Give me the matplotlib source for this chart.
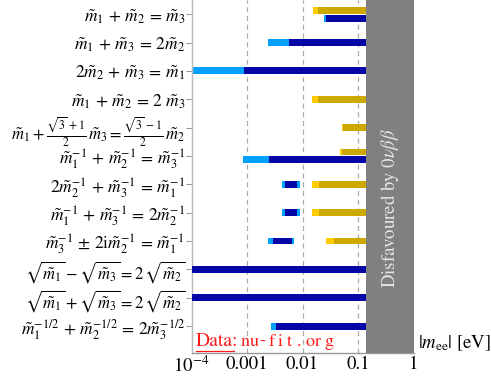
import matplotlib
matplotlib.use("Agg")
import matplotlib.pyplot as plt
from matplotlib.lines import Line2D

plt.rcParams['font.family'] = 'serif'
plt.rcParams['font.serif'] = ['STIXGeneral', 'Liberation Serif', 'DejaVu Serif']
plt.rcParams['mathtext.fontset'] = 'stix'

labels = [
    r'$\tilde{m}_1\,+\,\tilde{m}_2\,=\,\tilde{m}_3$',
    r'$\tilde{m}_1\,+\,\tilde{m}_3\,=\,2\tilde{m}_2$',
    r'$2\tilde{m}_2\,+\,\tilde{m}_3\,=\,\tilde{m}_1$',
    r'$\tilde{m}_1\,+\,\tilde{m}_2\,=\,2\ \tilde{m}_3$',
    r'$\tilde{m}_1 + \frac{\sqrt{3}\,+1}{2}\,\tilde{m}_3 = \frac{\sqrt{3}\,-1}{2}\,\tilde{m}_2$',
    r'$\tilde{m}_1^{-1}\,+\,\tilde{m}_2^{-1}\,=\,\tilde{m}_3^{-1}$',
    r'$2\tilde{m}_2^{-1}\,+\,\tilde{m}_3^{-1}\,=\,\tilde{m}_1^{-1}$',
    r'$\tilde{m}_1^{-1}\,+\,\tilde{m}_3^{-1}\,=\,2\tilde{m}_2^{-1}$',
    r'$\tilde{m}_3^{-1}\,\pm\,2\mathrm{i}\tilde{m}_2^{-1}\,=\,\tilde{m}_1^{-1}$',
    r'$\sqrt{\tilde{m}_1} - \sqrt{\tilde{m}_3} = 2\,\sqrt{\tilde{m}_2}$',
    r'$\sqrt{\tilde{m}_1} + \sqrt{\tilde{m}_3} = 2\,\sqrt{\tilde{m}_2}$',
    r'$\tilde{m}_1^{-1/2}\,+\,\tilde{m}_2^{-1/2}\,=\,2\tilde{m}_3^{-1/2}$',
]

# Normal ordering (blue): 3-sigma low, 1-sigma low, 1-sigma high, 3-sigma high [eV]
no_lo3 = [0.0244, 0.0024, 5e-5, None, None, 0.00085, 0.0042, 0.0042, 0.00238, 5e-5, 5e-5, 0.0027]
no_lo1 = [0.0266, 0.0056, 0.00089, None, None, 0.0025, 0.0049, 0.0049, 0.00289, 5e-5, 5e-5, 0.00335]
no_hi1 = [1.0, 1.0, 1.0, None, None, 1.0, 0.0081, 0.0081, 0.00634, 1.0, 1.0, 1.0]
no_hi3 = [1.0, 1.0, 1.0, None, None, 1.0, 0.0089, 0.0089, 0.0069, 1.0, 1.0, 1.0]

# Inverted ordering (gold)
io_lo3 = [0.0155, None, None, 0.0147, 0.051, 0.0469, 0.0149, 0.0149, 0.0262, None, None, None]
io_lo1 = [0.0188, None, None, 0.0188, 0.0546, 0.051, 0.0196, 0.0196, 0.0366, None, None, None]
io_hi1 = [1.0, None, None, 1.0, 1.0, 1.0, 1.0, 1.0, 1.0, None, None, None]
io_hi3 = [1.0, None, None, 1.0, 1.0, 1.0, 1.0, 1.0, 1.0, None, None, None]

bound_0vbb = 0.137
xticks = [1e-4, 1e-3, 1e-2, 1e-1, 1]
xticklabels = [r'$10^{-4}$', '0.001', '0.01', '0.1', '1']

DARK_BLUE = '#0505A8'
LIGHT_BLUE = '#00A0FF'
DARK_GOLD = '#CCA800'
LIGHT_GOLD = '#FFCC00'

fig = plt.figure(figsize=(4.91, 3.79), dpi=100)
ax = fig.add_axes([191.5 / 491, 26 / 379, 222 / 491, 353 / 379])

h = 0.245
off = 0.14

def draw(y, lo3, lo1, hi1, hi3, cl, cd):
    ax.barh(y, hi3 - lo3, left=lo3, height=h, color=cl, zorder=2, linewidth=0)
    ax.barh(y, hi1 - lo1, left=lo1, height=h, color=cd, zorder=3, linewidth=0)

for i in range(len(labels)):
    has_no = no_lo3[i] is not None
    has_io = io_lo3[i] is not None
    yn = yi = i
    if has_no and has_io:
        overlap = not (no_hi3[i] < io_lo3[i] or io_hi3[i] < no_lo3[i])
        if overlap:
            yi = i - off
            yn = i + off
    if has_no:
        draw(yn, no_lo3[i], no_lo1[i], no_hi1[i], no_hi3[i], LIGHT_BLUE, DARK_BLUE)
    if has_io:
        draw(yi, io_lo3[i], io_lo1[i], io_hi1[i], io_hi3[i], LIGHT_GOLD, DARK_GOLD)

ax.axvspan(bound_0vbb, 1, color='#808080', zorder=5, linewidth=0)
ax.text(0.894, 0.41, r'Disfavoured by $0\nu\beta\beta$', transform=ax.transAxes,
        rotation=90, ha='center', va='center', color='#E6E6E6', fontsize=13.5, zorder=6)

for xv in xticks[1:4]:
    ax.axvline(xv, color='#AAAAAA', ls=(0, (4, 3)), lw=0.9, zorder=1)

ax.set_xscale('log')
ax.set_xlim(1e-4, 1)
ax.set_ylim(11.95, -0.5)
ax.set_xticks(xticks)
ax.set_xticklabels(xticklabels, fontsize=13.5)
ax.minorticks_off()
ax.set_yticks(range(len(labels)))
tls = ax.set_yticklabels(labels, fontsize=12.5)
tls[4].set_fontsize(12)
tls[9].set_fontsize(12)
tls[10].set_fontsize(12)
ax.tick_params(axis='y', direction='out', length=4, color='#999999', pad=0.5)
ax.tick_params(axis='x', length=0, pad=2)

for s in ['top', 'right']:
    ax.spines[s].set_visible(False)
ax.spines['left'].set_color('#BBBBBB')
ax.spines['bottom'].set_color('#999999')
ax.spines['left'].set_linewidth(1.0)
ax.spines['bottom'].set_linewidth(1.0)

ax.text(1.02, 0.0, r'$|m_{\rm ee}|$ [eV]', transform=ax.transAxes,
        ha='left', va='bottom', fontsize=13.5)

ax.text(0.02, 0.008, 'Data:', transform=ax.transAxes, ha='left', va='bottom',
        color='#FF1A1A', fontsize=14, zorder=7)
ax.add_line(Line2D([0.022, 0.192], [0.006, 0.006], transform=ax.transAxes,
                   color='#FF1A1A', lw=0.9, zorder=7))
site = 'nu-fit.org'
for k, ch in enumerate(site):
    ax.text(0.222 + k * 0.0418, 0.008, ch, transform=ax.transAxes, ha='left', va='bottom',
            color='#FF1A1A', fontsize=13, zorder=7)

fig.savefig('out.png', dpi=100)
